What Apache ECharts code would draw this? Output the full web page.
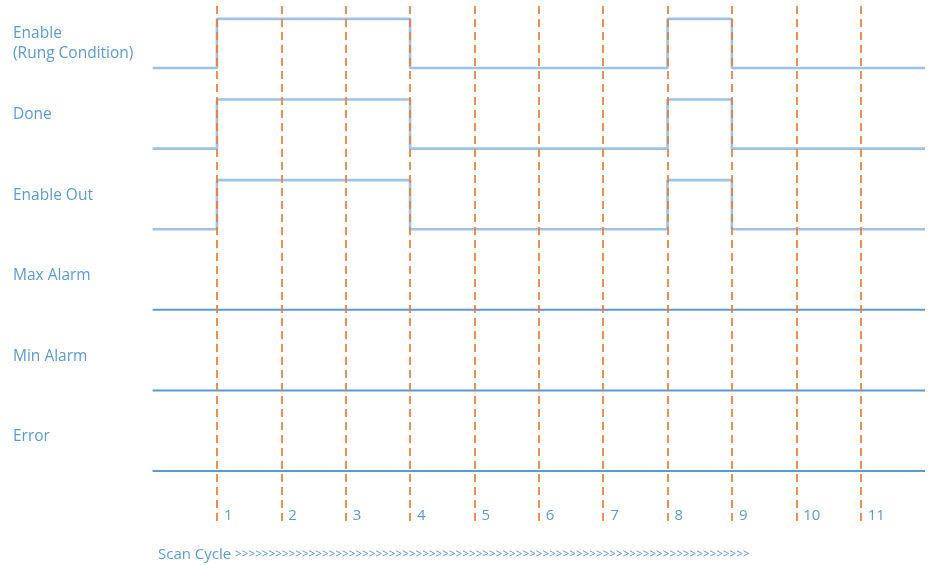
<!DOCTYPE html>
<html>
<head>
<meta charset="utf-8">
<script src="https://cdn.jsdelivr.net/npm/echarts@6/dist/echarts.min.js"></script>
<style>html,body{margin:0;padding:0;background:#fff}#c{width:931px;height:565px}</style>
</head>
<body>
<div id="c"></div>
<script>
// ---- data ----
const signalNames = ['Enable\n(Rung Condition)', 'Done', 'Enable Out', 'Max Alarm', 'Min Alarm', 'Error'];
// state of each signal during scan intervals 0..11 (interval k spans cycle k to k+1)
const enableStates    = [0,1,1,1,0,0,0,0,1,0,0,0];
const doneStates      = [0,1,1,1,0,0,0,0,1,0,0,0];
const enableOutStates = [0,1,1,1,0,0,0,0,1,0,0,0];
const maxAlarmStates  = [0,0,0,0,0,0,0,0,0,0,0,0];
const minAlarmStates  = [0,0,0,0,0,0,0,0,0,0,0,0];
const errorStates     = [0,0,0,0,0,0,0,0,0,0,0,0];
const scanCycles = [1,2,3,4,5,6,7,8,9,10,11];
const tickLabels = ['1','2','3','4','5','6','7','8','9','10','11'];
const footerLabel = 'Scan Cycle';
const arrowCount = 77;

const allStates = [enableStates, doneStates, enableOutStates, maxAlarmStates, minAlarmStates, errorStates];
const HIGH = 0.61;
const FONT = '"Open Sans", sans-serif';
const TXT = '#5b9bd5';

function stepData(states, row) {
  const base = (signalNames.length - 1) - row;
  const pts = states.map((s, k) => [k, base + s * HIGH]);
  pts.push([states.length, base + states[states.length - 1] * HIGH]);
  return pts;
}

const series = allStates.map((st, i) => ({
  type: 'line',
  xAxisIndex: 0, yAxisIndex: 0,
  step: 'end',
  symbol: 'none',
  silent: true,
  z: 3,
  lineStyle: { color: i < 3 ? '#9dc3e6' : '#5b9bd5', width: i < 3 ? 2.6 : 2 },
  data: stepData(st, i)
}));
series[0].markLine = {
  silent: true,
  symbol: 'none',
  label: { show: false },
  z: 4,
  lineStyle: { color: '#ed7d31', type: [8, 5], width: 2, opacity: 0.85 },
  data: scanCycles.map(c => ({ xAxis: c }))
};

const chart = echarts.init(document.getElementById('c'), null, { renderer: 'canvas' });
chart.setOption({
  animation: false,
  backgroundColor: '#ffffff',
  title: {
    left: 153, top: 542,
    text: '{a|' + footerLabel + ' }{b|' + '>'.repeat(arrowCount) + '}',
    textStyle: {
      fontWeight: 'normal',
      rich: {
        a: { fontFamily: FONT, fontSize: 15, fontWeight: 'normal', color: TXT },
        b: { fontFamily: FONT, fontSize: 11.7, fontWeight: 'normal', color: TXT }
      }
    }
  },
  grid: [
    { left: 152.6, right: 6, top: 6, bottom: 44 },
    { left: 152, right: 6, top: 24, height: 403 }
  ],
  xAxis: [
    {
      gridIndex: 0, type: 'value', min: 0, max: 12, interval: 1,
      axisLine: { show: false }, axisTick: { show: false }, splitLine: { show: false },
      axisLabel: {
        margin: -13, align: 'left', padding: [0, 0, 0, 7],
        color: TXT, fontFamily: FONT, fontSize: 15,
        formatter: v => { const i = scanCycles.indexOf(v); return i >= 0 ? tickLabels[i] : ''; }
      }
    },
    { gridIndex: 1, type: 'value', show: false }
  ],
  yAxis: [
    { gridIndex: 0, type: 'value', min: -0.62, max: 5.77, show: false },
    {
      gridIndex: 1, type: 'category', inverse: true, boundaryGap: false,
      data: signalNames,
      axisLine: { show: false }, axisTick: { show: false }, splitLine: { show: false },
      axisLabel: {
        align: 'left', verticalAlign: 'top', margin: 139, lineHeight: 20,
        color: TXT, fontFamily: FONT, fontSize: 15.5, interval: 0
      }
    }
  ],
  series: series
});
</script>
</body>
</html>
